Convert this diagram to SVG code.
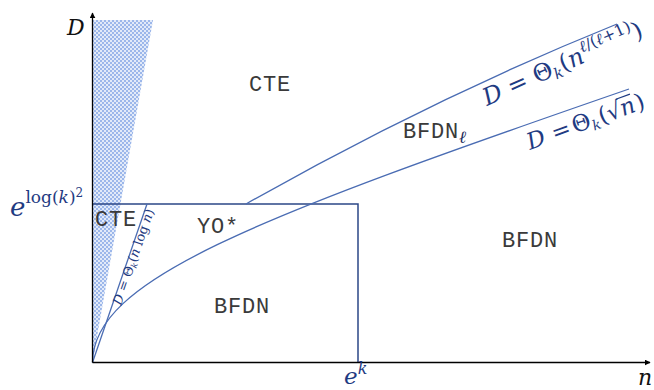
<svg xmlns="http://www.w3.org/2000/svg" width="654" height="390" viewBox="0 0 654 390">
<style>
.mono{font-family:"Liberation Mono","DejaVu Sans Mono",monospace;font-size:22px;fill:#3a3a3a;letter-spacing:0.8px}
.m{font-family:"DejaVu Serif","Liberation Serif",serif;fill:#1f3b82}
.i{font-style:italic}
.box{fill:none;stroke:#2b4787;stroke-width:1.5}
.cv{fill:none;stroke:#4a6cb3;stroke-width:1.3}
.ax{fill:none;stroke:#000;stroke-width:1.3}
</style>
<defs>
<pattern id="dots" width="4" height="4" patternUnits="userSpaceOnUse">
<rect width="4" height="4" fill="#e2eaf9"/>
<rect width="2" height="2" fill="#9cb7ea"/>
<rect x="2" y="2" width="2" height="2" fill="#9cb7ea"/>
</pattern>
<marker id="arr" viewBox="0 0 10 10" refX="9" refY="5" markerWidth="6" markerHeight="6" markerUnits="userSpaceOnUse" orient="auto">
<path d="M0,0 L10,5 L0,10 z" fill="#000"/>
</marker>
</defs>

<g id="shade">
<polygon points="92.5,20 153,20 92.5,362" fill="url(#dots)"/>
</g>

<g id="connectors">
<path class="box" d="M92.5,204 H358 V362.5"/>
<path class="cv" d="M92.5,362.5 L147,204"/>
<path class="cv" d="M92.5,362.5 C93,280 250,220 629,89"/>
<path class="cv" d="M246,204 Q431,99 617,24"/>
<line class="ax" x1="92.5" y1="362.5" x2="92.5" y2="13" marker-end="url(#arr)"/>
<line class="ax" x1="92.5" y1="362.5" x2="650" y2="362.5" marker-end="url(#arr)"/>
</g>

<g id="axis-labels">
<text x="67" y="35" font-family="DejaVu Serif,Liberation Serif,serif" font-style="italic" font-size="22" fill="#111">D</text>
<text x="638" y="385" font-family="DejaVu Serif,Liberation Serif,serif" font-style="italic" font-size="22" fill="#111">n</text>
<text class="m" x="10" y="216"><tspan class="i" font-size="26">e</tspan><tspan font-size="17" dy="-13">log(<tspan class="i">k</tspan>)</tspan><tspan font-size="12" dy="-6">2</tspan></text>
<text class="m" x="344" y="384"><tspan class="i" font-size="23">e</tspan><tspan class="i" font-size="16" dy="-10">k</tspan></text>
</g>

<g id="node-cte-top"><text class="mono" x="249" y="91">CTE</text></g>
<g id="node-cte-box"><text class="mono" x="95" y="226">CTE</text></g>
<g id="node-yo"><text class="mono" x="197" y="233">YO*</text></g>
<g id="node-bfdn-low"><text class="mono" x="214" y="313">BFDN</text></g>
<g id="node-bfdn-right"><text class="mono" x="502" y="247">BFDN</text></g>
<g id="node-bfdn-l"><text class="mono" x="403" y="138">BFDN<tspan class="i" font-family="DejaVu Serif,Liberation Serif,serif" font-size="17" dy="5" fill="#1a2a5a">ℓ</tspan></text></g>

<g id="label-upper" transform="translate(487,106) rotate(-24)">
<text class="m" font-size="24"><tspan class="i">D</tspan> = Θ<tspan class="i" font-size="15" dy="4">k</tspan><tspan dy="-4">(</tspan><tspan class="i">n</tspan><tspan font-size="16" dy="-10"><tspan class="i">ℓ</tspan>/(<tspan class="i">ℓ</tspan>+1)</tspan><tspan dy="10">)</tspan></text>
</g>
<g id="label-sqrt" transform="translate(530,150) rotate(-20)">
<text class="m" font-size="23"><tspan class="i" x="0" y="0">D</tspan><tspan x="26" y="0">=</tspan><tspan x="48" y="0">Θ</tspan><tspan class="i" font-size="14" x="67" y="4">k</tspan><tspan x="76" y="0">(</tspan><tspan x="85" y="0">√</tspan><tspan class="i" x="99" y="0">n</tspan><tspan x="115" y="0">)</tspan></text>
<line x1="98" y1="-18.3" x2="113" y2="-18.3" stroke="#1f3b82" stroke-width="1.2"/>
</g>
<g id="label-nlogn" transform="translate(121,306) rotate(-70.8)">
<text class="m" font-size="13"><tspan class="i">D</tspan> = Θ<tspan class="i" font-size="8.5" dy="2">k</tspan><tspan dy="-2">(</tspan><tspan class="i">n</tspan> log <tspan class="i">n</tspan>)</text>
</g>
</svg>
